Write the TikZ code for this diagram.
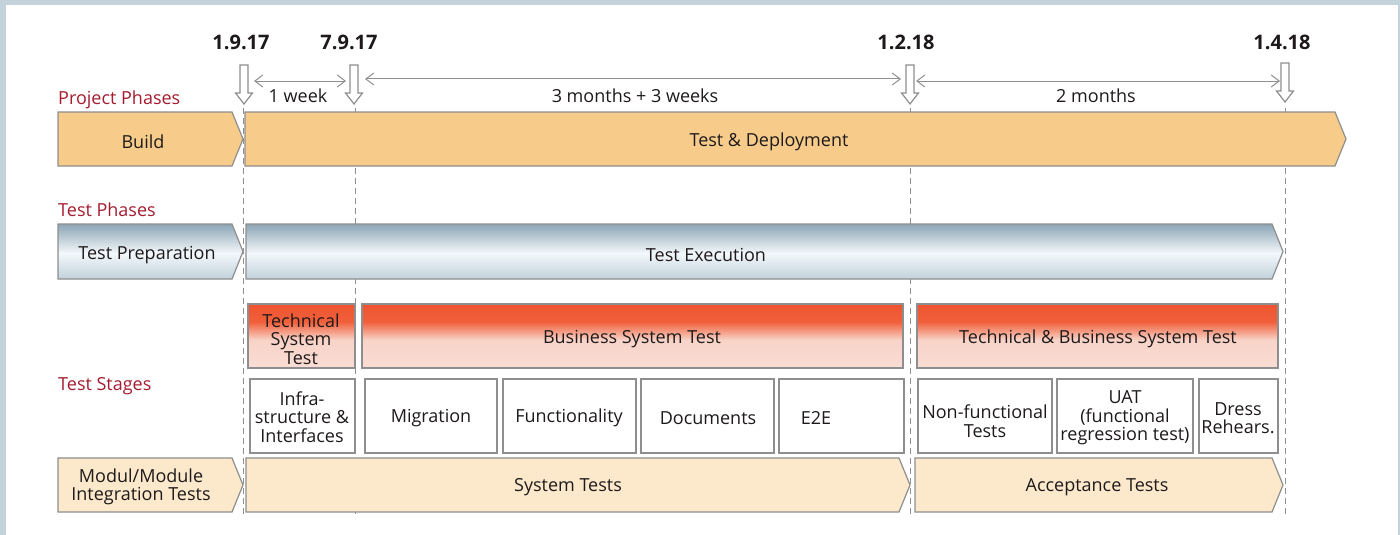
\documentclass[tikz,border=0pt]{standalone}
\usepackage{fontspec}
\setmainfont{Open Sans}
\usetikzlibrary{arrows.meta}
\definecolor{framecol}{HTML}{C3D2DB}
\definecolor{txt}{HTML}{1E1A1B}
\definecolor{lbl}{HTML}{A51C30}
\definecolor{edge}{HTML}{8E8E8E}
\definecolor{buildfill}{HTML}{F7CC8B}
\definecolor{lightfill}{HTML}{FCE9CB}
\definecolor{bluetop}{HTML}{8CA5B5}
\definecolor{bluemid}{HTML}{F3F8FB}
\definecolor{bluebot}{HTML}{C1D1DB}
\definecolor{redtop}{HTML}{EF5330}
\definecolor{redmid}{HTML}{F1603B}
\definecolor{pinkmid}{HTML}{F8D3C8}
\definecolor{pinkbot}{HTML}{FADDD5}
\pgfdeclareverticalshading{blueshade}{100bp}{color(0bp)=(bluebot); color(25bp)=(bluebot); color(48.5bp)=(bluemid); color(75bp)=(bluetop); color(100bp)=(bluetop)}
\pgfdeclareverticalshading{redshade}{100bp}{color(0bp)=(pinkbot); color(25bp)=(pinkbot); color(47bp)=(pinkmid); color(61bp)=(redmid); color(75bp)=(redtop); color(100bp)=(redtop)}
\begin{document}
\begin{tikzpicture}[x=1pt,y=-1pt,
  every node/.style={text=txt, font=\fontsize{18}{18.6}\selectfont, inner sep=0pt, align=center, yshift=-2pt},
  datelbl/.style={font=\fontsize{20}{22}\selectfont\bfseries, yshift=1pt},
  seclbl/.style={text=lbl, anchor=west},
  phaseorange/.style={draw=edge, line width=1.2pt, fill=buildfill, line join=miter},
  phaselight/.style={draw=edge, line width=1.2pt, fill=lightfill},
  phaseblue/.style={draw=edge, line width=1.2pt, shading=blueshade},
  stagebox/.style={draw=edge, line width=1.2pt, shading=redshade},
  subbox/.style={draw=edge, line width=1.2pt, fill=white},
  guide/.style={draw=edge, line width=1pt, dash pattern=on 6pt off 4pt},
  dimline/.style={draw=edge, line width=1pt, {Straight Barb[length=8pt,width=12pt]}-{Straight Barb[length=8pt,width=12pt]}},
  markerline/.style={draw=edge, line width=1.2pt, fill=white},
  markerarrow/.pic={\draw[markerline] (-4,0) -- (4,0) -- (4,28) -- (8.5,28) -- (0,39) -- (-8.5,28) -- (-4,28) -- cycle;}
]
\useasboundingbox (0,0) rectangle (1400,535);
\fill[framecol] (0,0) rectangle (1400,535);
\fill[white] (6,5) rectangle (1398,535);

% dates
\node[datelbl] (d1) at (241,41) {1.9.17};
\node[datelbl] (d2) at (349,41) {7.9.17};
\node[datelbl] (d3) at (906,41) {1.2.18};
\node[datelbl] (d4) at (1282,41) {1.4.18};

% guide coordinates
\coordinate (g1t) at (243.5,106); \coordinate (g1b) at (243.5,512);
\coordinate (g2t) at (355.5,106); \coordinate (g2b) at (355.5,512);
\coordinate (g3t) at (910,106);   \coordinate (g3b) at (910,512);
\coordinate (g4t) at (1285,106);  \coordinate (g4b) at (1285,512);
\draw[guide] (g1t) -- (g1b);
\draw[guide] (g2t) -- (g2b);
\draw[guide] (g3t) -- (g3b);
\draw[guide] (g4t) -- (g4b);

% markers
\pic at (244,63) {markerarrow};
\pic at (354,63) {markerarrow};
\pic at (910,63) {markerarrow};
\pic at (1285,61) {markerarrow};

% dimension arrows
\coordinate (a1l) at (254,79);  \coordinate (a1r) at (346,79);
\coordinate (a2l) at (365,77);  \coordinate (a2r) at (901,77);
\coordinate (a3l) at (916,79);  \coordinate (a3r) at (1280,79);
\draw[dimline] (a1l) -- (a1r);
\draw[dimline] (a2l) -- (a2r);
\draw[dimline] (a3l) -- (a3r);
\node (w1) at (298,94) {1 week};
\node (w2) at (635,94) {3 months + 3 weeks};
\node (w3) at (1096,94) {2 months};

% section labels
\node[seclbl] (lp) at (58,98) {Project Phases};
\node[seclbl] (lt) at (58,208) {Test Phases};
\node[seclbl] (ls) at (58,384) {Test Stages};

% project phases
\draw[phaseorange] (58,112) -- (232,112) -- (243,139) -- (232,166) -- (58,166) -- cycle;
\node (build) at (143,140) {Build};
\draw[phaseorange] (245,112) -- (1335,112) -- (1346,139) -- (1335,166) -- (245,166) -- cycle;
\node (deploy) at (769,140) {Test \& Deployment};

% test phases
\draw[phaseblue] (58,224) -- (232,224) -- (243,251.5) -- (232,279) -- (58,279) -- cycle;
\node (prep) at (147,253) {Test Preparation};
\draw[phaseblue] (246,224) -- (1272,224) -- (1283,251.5) -- (1272,279) -- (246,279) -- cycle;
\node (exec) at (706,253) {Test Execution};

% test stages
\draw[stagebox] (248,304) rectangle (355,368);
\node (tst) at (301,337) {Technical\\System\\Test};
\draw[stagebox] (362,304) rectangle (903,368);
\node (bst) at (632,337) {Business System Test};
\draw[stagebox] (917,304) rectangle (1278,368);
\node (tbst) at (1098,337) {Technical \& Business System Test};

% sub boxes
\draw[subbox] (250,379) rectangle (355,453);
\node (infra) at (302,415) {Infra-\\structure \&\\Interfaces};
\draw[subbox] (365,379) rectangle (497,453);
\node (mig) at (431,416) {Migration};
\draw[subbox] (503,379) rectangle (636,453);
\node (func) at (569,416) {Functionality};
\draw[subbox] (641,379) rectangle (774,453);
\node (docs) at (708,416) {Documents};
\draw[subbox] (779,379) rectangle (904,453);
\node (e2e) at (816,416) {E2E};
\draw[subbox] (918,379) rectangle (1052,453);
\node (nft) at (985,419) {Non-functional\\Tests};
\draw[subbox] (1057,379) rectangle (1193,453);
\node (uat) at (1125,416) {UAT\\(functional\\regression test)};
\draw[subbox] (1199,379) rectangle (1278,453);
\node (dress) at (1238,416) {Dress\\Rehears.};

% bottom row
\draw[phaselight] (58,458) -- (232,458) -- (243,485) -- (232,512) -- (58,512) -- cycle;
\node (modul) at (141,485) {Modul/Module\\Integration Tests};
\draw[phaselight] (246,458) -- (899,458) -- (910,485) -- (899,512) -- (246,512) -- cycle;
\node (syst) at (568,485) {System Tests};
\draw[phaselight] (915,458) -- (1272,458) -- (1283,485) -- (1272,512) -- (915,512) -- cycle;
\node (acc) at (1097,485) {Acceptance Tests};
\end{tikzpicture}
\end{document}
